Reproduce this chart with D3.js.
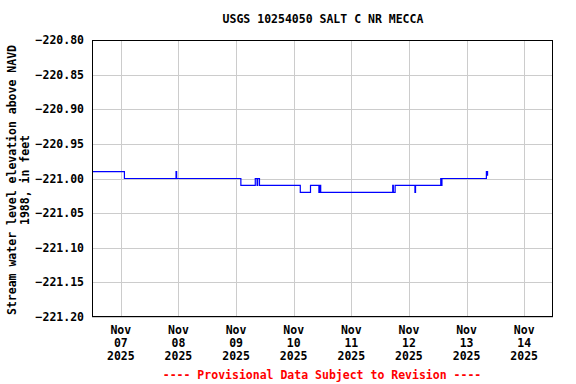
<!DOCTYPE html>
<html>
<head>
<meta charset="utf-8">
<script src="https://cdn.jsdelivr.net/npm/d3@7"></script>
<style>
  body { margin: 0; background: #fff; }
  text { font-family: "DejaVu Sans Mono", monospace; font-weight: bold; }
</style>
</head>
<body>
<svg id="chart" width="576" height="384"></svg>
<script>
// Gage readings, stored only where the value changes (step series)
const times = [
  "2025-11-06T12:00", "2025-11-07T01:30", "2025-11-07T23:00", "2025-11-07T23:15",
  "2025-11-09T02:00", "2025-11-09T08:00", "2025-11-09T08:45", "2025-11-09T09:00",
  "2025-11-09T09:45", "2025-11-10T02:45", "2025-11-10T07:00", "2025-11-10T10:30",
  "2025-11-10T10:45", "2025-11-10T11:15", "2025-11-11T17:15", "2025-11-11T17:30",
  "2025-11-11T18:15", "2025-11-12T02:30", "2025-11-12T02:45", "2025-11-12T13:15",
  "2025-11-12T13:30", "2025-11-12T13:45", "2025-11-13T08:15", "2025-11-13T08:30",
  "2025-11-13T08:45", "2025-11-13T09:00"
];
const levels = [
  -220.99, -221.00, -220.99, -221.00,
  -221.01, -221.00, -221.01, -221.00,
  -221.01, -221.02, -221.01, -221.02,
  -221.01, -221.02, -221.01, -221.02,
  -221.01, -221.02, -221.01, -221.00,
  -221.01, -221.00, -220.99, -220.995,
  -220.99, -220.99
];
const yTicks = [-220.80, -220.85, -220.90, -220.95, -221.00, -221.05, -221.10, -221.15, -221.20];
const xTickDays = ["2025-11-07", "2025-11-08", "2025-11-09", "2025-11-10",
                   "2025-11-11", "2025-11-12", "2025-11-13", "2025-11-14"];

const parse = d3.timeParse("%Y-%m-%dT%H:%M");
const parseDay = d3.timeParse("%Y-%m-%d");
const data = times.map((t, i) => ({date: parse(t), value: levels[i]}));

const margin = {top: 40, right: 23, bottom: 67, left: 92};
const width = 576, height = 384;

const svg = d3.select("#chart");

const x = d3.scaleTime()
  .domain([parse("2025-11-06T12:00"), parse("2025-11-14T12:00")])
  .range([margin.left, width - margin.right]);
const y = d3.scaleLinear()
  .domain([-221.20, -220.80])
  .range([height - margin.bottom, margin.top]);

// grid
svg.append("g")
  .selectAll("line.h")
  .data(yTicks)
  .join("line")
  .attr("x1", margin.left).attr("x2", width - margin.right)
  .attr("y1", d => Math.round(y(d)) + 0.5).attr("y2", d => Math.round(y(d)) + 0.5)
  .attr("stroke", "#cccccc");
svg.append("g")
  .selectAll("line.v")
  .data(xTickDays.map(parseDay))
  .join("line")
  .attr("x1", d => Math.round(x(d)) + 0.5).attr("x2", d => Math.round(x(d)) + 0.5)
  .attr("y1", margin.top).attr("y2", height - margin.bottom)
  .attr("stroke", "#cccccc");

// data line
const line = d3.line()
  .x(d => x(d.date))
  .y(d => y(d.value))
  .curve(d3.curveStepAfter);
svg.append("path")
  .datum(data)
  .attr("fill", "none")
  .attr("stroke", "#0000ff")
  .attr("stroke-width", 1.2)
  .attr("d", line);

// frame
svg.append("rect")
  .attr("x", margin.left + 0.5).attr("y", margin.top + 0.5)
  .attr("width", width - margin.left - margin.right - 1)
  .attr("height", height - margin.top - margin.bottom - 1)
  .attr("fill", "none").attr("stroke", "#000");

// y axis labels
svg.append("g")
  .selectAll("text")
  .data(yTicks)
  .join("text")
  .attr("x", 84)
  .attr("y", d => y(d) + 4)
  .attr("text-anchor", "end")
  .attr("font-size", "11.5px")
  .text(d => d3.format(".2f")(d));

// x axis labels (three lines)
const fmtLines = [d3.timeFormat("%b"), d3.timeFormat("%d"), d3.timeFormat("%Y")];
const xl = svg.append("g")
  .selectAll("text")
  .data(xTickDays.map(parseDay))
  .join("text")
  .attr("text-anchor", "middle")
  .attr("font-size", "11.5px")
  .attr("transform", d => `translate(${x(d)},${334})`);
fmtLines.forEach((f, i) => {
  xl.append("tspan").attr("x", 0).attr("y", i * 13).text(d => f(d));
});

// title
svg.append("text")
  .attr("x", 323).attr("y", 23)
  .attr("text-anchor", "middle")
  .attr("font-size", "11.5px")
  .text("USGS 10254050 SALT C NR MECCA");

// y title
const yt = svg.append("text")
  .attr("transform", "translate(16,180) rotate(-90)")
  .attr("text-anchor", "middle")
  .attr("font-size", "11.5px");
yt.append("tspan").attr("x", 0).attr("y", 0).text("Stream water level elevation above NAVD");
yt.append("tspan").attr("x", 0).attr("y", 13).text("1988, in feet");

// footer
svg.append("text")
  .attr("x", 322).attr("y", 379)
  .attr("text-anchor", "middle")
  .attr("font-size", "11.5px")
  .attr("fill", "#ff0000")
  .text("---- Provisional Data Subject to Revision ----");
</script>
</body>
</html>
